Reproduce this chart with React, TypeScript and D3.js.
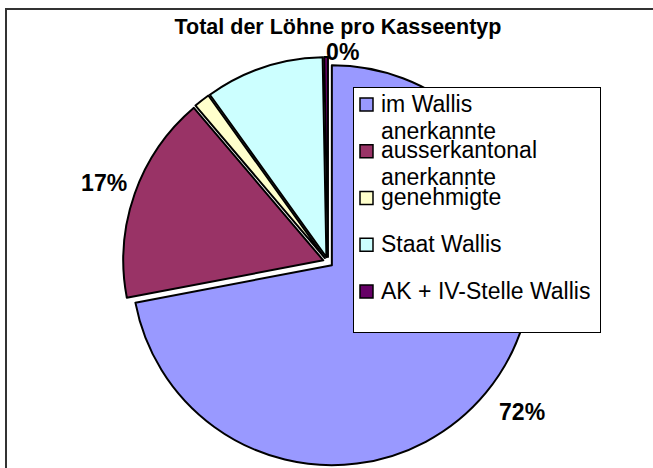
import React from "react";
import * as d3 from "d3";

// chart data
const title = "Total der Löhne pro Kasseentyp";
const categories = [
  "im Wallis anerkannte",
  "ausserkantonal anerkannte",
  "genehmigte",
  "Staat Wallis",
  "AK + IV-Stelle Wallis",
];
const legendLines = [
  ["im Wallis", "anerkannte"],
  ["ausserkantonal", "anerkannte"],
  ["genehmigte"],
  ["Staat Wallis"],
  ["AK + IV-Stelle Wallis"],
];
const shares = [72.0, 16.8, 1.3, 9.6, 0.3];
const colors = ["#9999FF", "#993366", "#FFFFCC", "#CCFFFF", "#660066"];
const showLabel = [true, true, false, false, true];

const font = "'Liberation Sans', Arial, Helvetica, sans-serif";

export default function App() {
  // dimensions
  const width = 653;
  const height = 468;
  const cx = 328;
  const cy = 262;
  const radius = 200;
  const explode = 5;
  const labelSize = 23;
  // distance of each label from its slice edge (Excel moved them a bit)
  const labelGap = [17, 8, 6, 6, -3];

  // pie layout
  const pie = d3.pie<number>().sort(null).value(d => d);
  const arcs = pie(shares);
  const arc = d3.arc<d3.PieArcDatum<number>>().innerRadius(0).outerRadius(radius);
  const total = d3.sum(shares);

  // legend scale
  const legendY = d3.scalePoint<string>().domain(categories).range([98, 285]);

  return (
    <svg
      width={width}
      height={height}
      style={{ position: "absolute", left: 0, top: 0, background: "#fff" }}
      fontFamily={font}
    >
      <rect x={6} y={9} width={720} height={520} fill="#fff" stroke="#333" strokeWidth={2} />
      <text x={338} y={34} textAnchor="middle" fontSize={21.5} fontWeight="bold">
        {title}
      </text>

      {/* slices, each exploded along its bisector */}
      <g transform={`translate(${cx},${cy})`}>
        {arcs.map((a, i) => {
          const mid = (a.startAngle + a.endAngle) / 2;
          const dx = Math.sin(mid) * explode;
          const dy = -Math.cos(mid) * explode;
          return (
            <path
              key={categories[i]}
              d={arc(a) || ""}
              transform={`translate(${dx},${dy})`}
              fill={colors[i]}
              stroke="#000"
              strokeWidth={2}
              strokeLinejoin="round"
            />
          );
        })}
        {arcs.map((a, i) => {
          if (!showLabel[i]) return null;
          const mid = (a.startAngle + a.endAngle) / 2;
          const s = Math.sin(mid);
          const c = Math.cos(mid);
          const rr = radius + explode + labelGap[i];
          const px = s * rr;
          const py = -c * rr;
          const anchor = s < -0.05 ? "end" : "start";
          const y = c > 0 ? py : py + labelSize * 0.716;
          return (
            <text
              key={"l" + i}
              x={px}
              y={y}
              textAnchor={anchor}
              fontSize={labelSize}
              fontWeight="bold"
            >
              {Math.round((a.value / total) * 100) + "%"}
            </text>
          );
        })}
      </g>

      {/* legend */}
      <rect x={353.5} y={87.5} width={247} height={245} fill="#fff" stroke="#000" strokeWidth={1} />
      {categories.map((cat, i) => {
        const y0 = legendY(cat) || 0;
        return (
          <g key={cat}>
            <rect x={360} y={y0} width={13} height={13} fill={colors[i]} stroke="#000" strokeWidth={1.5} />
            {legendLines[i].map((line, j) => (
              <text key={j} x={381} y={y0 + 13.5 + j * 27} fontSize={23}>
                {line}
              </text>
            ))}
          </g>
        );
      })}
    </svg>
  );
}
